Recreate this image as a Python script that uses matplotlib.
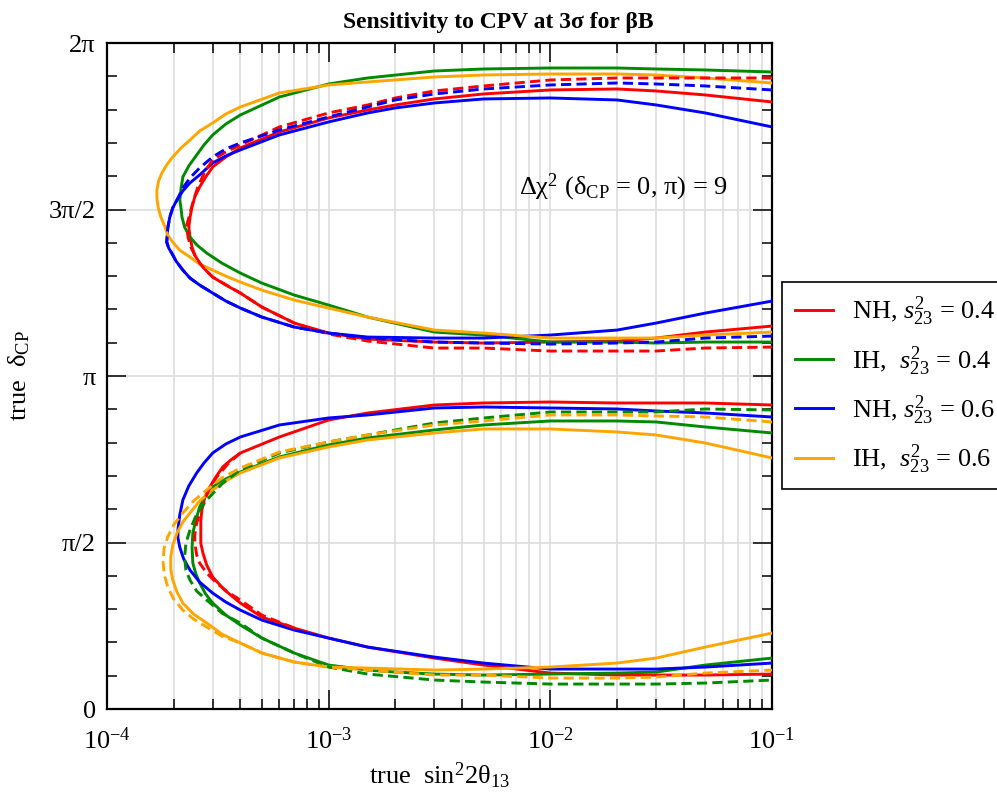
import numpy as np
import matplotlib
matplotlib.use("Agg")
import matplotlib.pyplot as plt
from matplotlib.ticker import FixedLocator, LogLocator, NullFormatter, FixedFormatter

plt.rcParams["font.family"] = ["Liberation Serif", "DejaVu Serif"]
plt.rcParams["mathtext.fontset"] = "custom"
plt.rcParams["mathtext.rm"] = "Liberation Serif"
plt.rcParams["mathtext.it"] = "Liberation Serif:italic"
plt.rcParams["mathtext.bf"] = "Liberation Serif:bold"
plt.rcParams["mathtext.default"] = "rm"

# --- data: contours of Delta chi^2 = 9, x = true sin^2 2theta13, d = true delta_CP / pi ---
# upper island (pi < delta < 2pi)
nh04_hi_x = [1e-1, 5e-2, 3e-2, 2e-2, 1e-2, 5e-3, 3e-3, 2e-3, 1.5e-3, 1e-3, 6e-4,
             4e-4, 3.44e-4, 3e-4, 2.79e-4, 2.62e-4, 2.49e-4, 2.42e-4, 2.37e-4, 2.34e-4, 2.37e-4, 2.42e-4, 2.49e-4,
             2.62e-4, 2.79e-4, 3e-4, 3.44e-4, 4e-4,
             5e-4, 7e-4, 1e-3, 1.5e-3, 3e-3, 5e-3, 1e-2, 2e-2, 3e-2, 5e-2, 1e-1]
nh04_hi_d = [1.823, 1.844, 1.856, 1.862, 1.859, 1.847, 1.832, 1.814, 1.799, 1.775, 1.733,
             1.685, 1.658, 1.628, 1.598, 1.568, 1.538, 1.508, 1.477, 1.447, 1.417, 1.387, 1.363,
             1.339, 1.318, 1.297, 1.273, 1.249,
             1.207, 1.159, 1.129, 1.111, 1.102, 1.099, 1.102, 1.105, 1.114, 1.132, 1.150]

nh04d_hi_x = [1e-1, 5e-2, 3e-2, 2e-2, 1e-2, 5e-3, 3e-3, 2e-3, 1.5e-3, 1e-3, 6e-4,
              4e-4, 3.44e-4, 3e-4, 2.76e-4, 2.57e-4, 2.46e-4, 2.37e-4, 2.29e-4, 2.32e-4, 2.39e-4, 2.49e-4,
              2.62e-4, 2.79e-4, 3e-4, 4e-4,
              5e-4, 7e-4, 1e-3, 1.5e-3, 3e-3, 5e-3, 1e-2, 2e-2, 3e-2, 5e-2, 1e-1]
nh04d_hi_d = [1.895, 1.895, 1.895, 1.895, 1.889, 1.871, 1.856, 1.835, 1.814, 1.790, 1.748,
              1.694, 1.673, 1.649, 1.613, 1.568, 1.529, 1.489, 1.453, 1.417, 1.387, 1.363,
              1.339, 1.318, 1.297, 1.249,
              1.207, 1.159, 1.126, 1.105, 1.084, 1.084, 1.075, 1.075, 1.075, 1.084, 1.087]

nh06_hi_x = [1e-1, 5e-2, 3e-2, 2e-2, 1e-2, 5e-3, 3e-3, 2e-3, 1.5e-3, 1e-3, 6e-4,
             4e-4, 3.44e-4, 3e-4, 2.62e-4, 2.37e-4, 2.20e-4, 2.07e-4, 1.98e-4, 1.92e-4, 1.88e-4, 1.86e-4,
             1.90e-4, 1.96e-4, 2.05e-4, 2.20e-4, 2.37e-4, 2.62e-4, 3e-4, 3.44e-4, 4e-4,
             5e-4, 7e-4, 1e-3, 1.5e-3, 3e-3, 5e-3, 1e-2, 2e-2, 3e-2, 5e-2, 1e-1]
nh06_hi_d = [1.748, 1.790, 1.814, 1.829, 1.835, 1.832, 1.820, 1.805, 1.790, 1.763, 1.724,
             1.679, 1.661, 1.640, 1.604, 1.580, 1.556, 1.529, 1.505, 1.477, 1.444, 1.402,
             1.384, 1.369, 1.345, 1.318, 1.294, 1.273, 1.249, 1.225, 1.204,
             1.177, 1.147, 1.129, 1.117, 1.114, 1.114, 1.123, 1.138, 1.159, 1.189, 1.225]

nh06d_hi_x = [1e-1, 5e-2, 3e-2, 2e-2, 1e-2, 5e-3, 3e-3, 2e-3, 1.5e-3, 1e-3, 6e-4,
              4e-4, 3.44e-4, 3e-4, 2.62e-4, 2.37e-4, 2.20e-4, 2.07e-4, 1.98e-4, 1.92e-4, 1.88e-4, 1.86e-4,
              1.90e-4, 1.96e-4, 2.05e-4, 2.20e-4, 2.37e-4, 2.62e-4, 3e-4, 3.44e-4, 4e-4,
              5e-4, 7e-4, 1e-3, 1.5e-3, 3e-3, 5e-3, 1e-2, 2e-2, 3e-2, 5e-2, 1e-1]
nh06d_hi_d = [1.859, 1.871, 1.877, 1.880, 1.874, 1.862, 1.847, 1.829, 1.808, 1.778, 1.739,
              1.700, 1.682, 1.658, 1.625, 1.595, 1.565, 1.529, 1.505, 1.477, 1.444, 1.402,
              1.384, 1.369, 1.345, 1.318, 1.294, 1.273, 1.249, 1.225, 1.204,
              1.177, 1.147, 1.129, 1.114, 1.102, 1.099, 1.096, 1.099, 1.102, 1.114, 1.120]

ih04_hi_x = [1e-1, 5e-2, 3e-2, 2e-2, 1e-2, 5e-3, 3e-3, 1.5e-3, 1e-3, 6e-4,
             4e-4, 3.44e-4, 3e-4, 2.74e-4, 2.54e-4, 2.34e-4, 2.20e-4, 2.16e-4, 2.13e-4, 2.16e-4, 2.18e-4,
             2.24e-4, 2.37e-4, 2.54e-4, 2.82e-4, 3.30e-4, 4e-4,
             5e-4, 7e-4, 1e-3, 1.5e-3, 3e-3, 5e-3, 1e-2, 2e-2, 3e-2, 5e-2, 1e-1]
ih04_hi_d = [1.913, 1.919, 1.922, 1.925, 1.925, 1.922, 1.916, 1.895, 1.877, 1.838,
             1.784, 1.757, 1.724, 1.694, 1.664, 1.631, 1.598, 1.565, 1.529, 1.502, 1.477,
             1.447, 1.417, 1.394, 1.369, 1.339, 1.309,
             1.279, 1.243, 1.213, 1.177, 1.132, 1.123, 1.102, 1.102, 1.099, 1.102, 1.102]

ih06_hi_x = [1e-1, 5e-2, 3e-2, 2e-2, 1e-2, 5e-3, 3e-3, 1.5e-3, 1e-3, 6e-4,
             4e-4, 3.44e-4, 3e-4, 2.62e-4, 2.37e-4, 2.16e-4, 1.98e-4, 1.86e-4, 1.77e-4, 1.71e-4, 1.68e-4,
             1.68e-4, 1.70e-4, 1.75e-4, 1.83e-4, 1.88e-4, 1.98e-4, 2.13e-4, 2.37e-4, 2.62e-4, 3e-4,
             3.44e-4, 4e-4,
             5e-4, 7e-4, 1e-3, 1.5e-3, 3e-3, 5e-3, 1e-2, 2e-2, 3e-2, 5e-2, 1e-1]
ih06_hi_d = [1.880, 1.895, 1.904, 1.907, 1.907, 1.904, 1.898, 1.883, 1.874, 1.850,
             1.808, 1.787, 1.760, 1.736, 1.709, 1.685, 1.658, 1.634, 1.610, 1.586, 1.559,
             1.535, 1.508, 1.477, 1.447, 1.423, 1.402, 1.378, 1.357, 1.336, 1.318,
             1.300, 1.282,
             1.258, 1.228, 1.204, 1.177, 1.138, 1.129, 1.114, 1.114, 1.114, 1.123, 1.132]

# lower island (0 < delta < pi)
nh04_lo_x = [1e-1, 5e-2, 3e-2, 2e-2, 1e-2, 5e-3, 3e-3, 1.5e-3, 1e-3, 6e-4,
             4e-4, 3.62e-4, 3.33e-4, 3.10e-4, 2.91e-4, 2.76e-4, 2.68e-4, 2.65e-4, 2.65e-4, 2.65e-4, 2.71e-4,
             2.82e-4, 3e-4, 3.40e-4, 4e-4,
             5e-4, 7e-4, 1e-3, 1.5e-3, 3e-3, 5e-3, 1e-2, 2e-2, 3e-2, 5e-2, 1e-1]
nh04_lo_d = [0.913, 0.919, 0.919, 0.919, 0.922, 0.919, 0.913, 0.889, 0.868, 0.817,
             0.769, 0.748, 0.727, 0.697, 0.667, 0.634, 0.598, 0.565, 0.529, 0.498, 0.468,
             0.432, 0.396, 0.357, 0.318,
             0.276, 0.243, 0.213, 0.186, 0.153, 0.132, 0.108, 0.102, 0.102, 0.102, 0.105]

nh04d_lo_x = [4e-4, 3.51e-4, 3.13e-4, 2.91e-4, 2.71e-4, 2.54e-4, 2.49e-4, 2.49e-4, 2.54e-4, 2.62e-4,
              2.82e-4, 3.13e-4, 3.51e-4, 4e-4, 5e-4, 7e-4]
nh04d_lo_d = [0.769, 0.736, 0.697, 0.667, 0.613, 0.559, 0.523, 0.498, 0.462, 0.438,
              0.408, 0.378, 0.351, 0.327, 0.282, 0.243]

nh06_lo_x = [1e-1, 5e-2, 3e-2, 2e-2, 1e-2, 5e-3, 3e-3, 1.5e-3, 1e-3, 6e-4,
             4e-4, 3.44e-4, 3e-4, 2.74e-4, 2.54e-4, 2.34e-4, 2.20e-4, 2.13e-4, 2.09e-4, 2.09e-4, 2.13e-4,
             2.22e-4, 2.37e-4, 2.62e-4, 3e-4, 3.44e-4, 4e-4,
             5e-4, 7e-4, 1e-3, 1.5e-3, 3e-3, 5e-3, 1e-2, 2e-2, 3e-2, 5e-2, 1e-1]
nh06_lo_d = [0.877, 0.889, 0.895, 0.901, 0.904, 0.907, 0.904, 0.883, 0.874, 0.853,
             0.817, 0.796, 0.769, 0.739, 0.709, 0.670, 0.628, 0.583, 0.538, 0.514, 0.486,
             0.450, 0.417, 0.381, 0.348, 0.321, 0.297,
             0.267, 0.237, 0.213, 0.186, 0.156, 0.138, 0.120, 0.120, 0.120, 0.126, 0.138]

ih04_lo_x = [1e-1, 5e-2, 3e-2, 2e-2, 1e-2, 5e-3, 3e-3, 1.5e-3, 1e-3, 6e-4,
             4e-4, 3.44e-4, 3e-4, 2.76e-4, 2.62e-4, 2.52e-4, 2.44e-4, 2.42e-4, 2.44e-4, 2.52e-4, 2.62e-4,
             2.79e-4, 3e-4, 3.44e-4, 4e-4,
             5e-4, 7e-4, 1e-3, 1.5e-3, 2e-3, 3e-3, 5e-3, 1e-2, 2e-2, 3e-2, 5e-2, 1e-1]
ih04_lo_d = [0.829, 0.847, 0.862, 0.865, 0.865, 0.853, 0.838, 0.814, 0.793, 0.757,
             0.712, 0.691, 0.667, 0.637, 0.607, 0.568, 0.529, 0.483, 0.438, 0.405, 0.378,
             0.345, 0.318, 0.282, 0.252,
             0.213, 0.168, 0.132, 0.117, 0.111, 0.105, 0.102, 0.105, 0.108, 0.111, 0.132, 0.153]

ih04d_lo_x = [1e-1, 5e-2, 3e-2, 2e-2, 1e-2, 5e-3, 3e-3, 1.5e-3, 1e-3, 6e-4,
              4e-4, 3.30e-4, 2.82e-4, 2.54e-4, 2.37e-4, 2.27e-4, 2.24e-4, 2.27e-4, 2.37e-4, 2.54e-4, 2.82e-4,
              3.30e-4, 4e-4,
              5e-4, 7e-4, 1e-3, 1.5e-3, 3e-3, 5e-3, 1e-2, 2e-2, 3e-2, 5e-2, 1e-1]
ih04d_lo_d = [0.898, 0.901, 0.892, 0.892, 0.892, 0.874, 0.859, 0.823, 0.802, 0.769,
              0.718, 0.676, 0.628, 0.586, 0.538, 0.498, 0.456, 0.417, 0.387, 0.354, 0.327,
              0.288, 0.258,
              0.213, 0.168, 0.126, 0.105, 0.087, 0.081, 0.075, 0.075, 0.075, 0.078, 0.087]

ih06_lo_x = [1e-1, 5e-2, 3e-2, 2e-2, 1e-2, 5e-3, 3e-3, 1.5e-3, 1e-3, 6e-4,
             4e-4, 3.44e-4, 3e-4, 2.62e-4, 2.37e-4, 2.20e-4, 2.07e-4, 1.98e-4, 1.94e-4, 1.94e-4, 1.98e-4,
             2.07e-4, 2.20e-4, 2.46e-4, 2.82e-4, 3.30e-4, 4e-4,
             5e-4, 7e-4, 1e-3, 1.5e-3, 3e-3, 5e-3, 1e-2, 2e-2, 3e-2, 5e-2, 1e-1]
ih06_lo_d = [0.754, 0.799, 0.823, 0.832, 0.841, 0.841, 0.829, 0.808, 0.787, 0.754,
             0.709, 0.685, 0.658, 0.625, 0.589, 0.562, 0.529, 0.492, 0.456, 0.420, 0.387,
             0.351, 0.318, 0.285, 0.258, 0.225, 0.198,
             0.168, 0.141, 0.126, 0.123, 0.117, 0.120, 0.126, 0.138, 0.153, 0.186, 0.228]

ih06d_lo_x = [1e-1, 5e-2, 3e-2, 2e-2, 1e-2, 5e-3, 3e-3, 1.5e-3, 1e-3, 6e-4,
              4e-4, 3.30e-4, 2.82e-4, 2.46e-4, 2.20e-4, 2.00e-4, 1.88e-4, 1.81e-4, 1.79e-4, 1.81e-4, 1.88e-4,
              2.00e-4, 2.20e-4, 2.46e-4, 2.82e-4, 3.30e-4, 4e-4,
              5e-4, 7e-4, 1e-3, 1.5e-3, 3e-3, 5e-3, 1e-2, 2e-2, 3e-2, 5e-2, 1e-1]
ih06d_lo_d = [0.862, 0.877, 0.880, 0.883, 0.883, 0.865, 0.853, 0.823, 0.802, 0.772,
              0.724, 0.694, 0.658, 0.625, 0.589, 0.553, 0.517, 0.483, 0.447, 0.405, 0.366,
              0.330, 0.297, 0.270, 0.246, 0.219, 0.198,
              0.168, 0.141, 0.126, 0.117, 0.102, 0.102, 0.093, 0.093, 0.096, 0.108, 0.117]

labels = [r"NH, $\mathit{s}^{2}_{23}$ = 0.4", r"IH,  $\mathit{s}^{2}_{23}$ = 0.4",
          r"NH, $\mathit{s}^{2}_{23}$ = 0.6", r"IH,  $\mathit{s}^{2}_{23}$ = 0.6"]
colors = ["#ff0000", "#008a00", "#0000ff", "#ffa500"]

xticks = [1e-4, 1e-3, 1e-2, 1e-1]
xticklabels = [r"10$^{-4}$", r"10$^{-3}$", r"10$^{-2}$", r"10$^{-1}$"]
yticks_pi = [0, 0.5, 1, 1.5, 2]
yticklabels = ["0", "π/2", "π", "3π/2", "2π"]

solid = [(nh04_hi_x, nh04_hi_d, nh04_lo_x, nh04_lo_d),
         (ih04_hi_x, ih04_hi_d, ih04_lo_x, ih04_lo_d),
         (nh06_hi_x, nh06_hi_d, nh06_lo_x, nh06_lo_d),
         (ih06_hi_x, ih06_hi_d, ih06_lo_x, ih06_lo_d)]
dashed = [(nh04d_hi_x, nh04d_hi_d, 0), (nh04d_lo_x, nh04d_lo_d, 0),
          (nh06d_hi_x, nh06d_hi_d, 2),
          (ih04d_lo_x, ih04d_lo_d, 1),
          (ih06d_lo_x, ih06d_lo_d, 3)]

fig = plt.figure(figsize=(9.97, 7.98), dpi=100)
ax = fig.add_axes([0.1073, 0.1115, 0.667, 0.8346])

lw = 2.1
for i, (hx, hd, lx, ld) in enumerate(solid):
    ax.plot(hx, np.array(hd) * np.pi, color=colors[i], lw=lw, label=labels[i], zorder=3,
            solid_joinstyle="round")
    ax.plot(lx, np.array(ld) * np.pi, color=colors[i], lw=lw, zorder=3, solid_joinstyle="round")
for x, d, ci in dashed:
    ax.plot(x, np.array(d) * np.pi, color=colors[ci], lw=lw, ls=(0, (3.5, 1.8)), zorder=3)

ax.set_xscale("log")
ax.set_xlim(1e-4, 1e-1)
ax.set_ylim(0, 2 * np.pi)

ax.xaxis.set_major_locator(FixedLocator(xticks))
ax.xaxis.set_major_formatter(FixedFormatter(xticklabels))
ax.xaxis.set_minor_locator(LogLocator(base=10, subs=np.arange(2, 10)))
ax.xaxis.set_minor_formatter(NullFormatter())
ax.yaxis.set_major_locator(FixedLocator([v * np.pi for v in yticks_pi]))
ax.yaxis.set_major_formatter(FixedFormatter(yticklabels))
ax.yaxis.set_minor_locator(FixedLocator(np.arange(0, 21) * np.pi / 10))

ax.grid(True, which="major", axis="both", color="#dddddd", lw=1.2, zorder=0)
ax.grid(True, which="minor", axis="x", color="#dddddd", lw=1.2, zorder=0)
ax.set_axisbelow(True)

ax.tick_params(which="both", direction="in", top=True, right=True, width=1.1, colors="black")
ax.tick_params(which="major", length=14, labelsize=19, pad=8)
ax.tick_params(axis="x", which="major", pad=13)
ax.tick_params(which="minor", length=7)
for s in ax.spines.values():
    s.set_linewidth(1.6)

ax.set_xlabel(r"true  sin$^{2}$2θ$_{13}$", fontsize=19, labelpad=5)
ax.set_ylabel(r"true  δ$_{\mathrm{CP}}$", fontsize=19, labelpad=12)

ax.text(7.2e-3, 1.544 * np.pi, r"Δχ$^{2}$ (δ$_{\mathrm{CP}}$ = 0, π) = 9", fontsize=19,
        ha="left", va="baseline")

fig.text(0.5, 0.985, "Sensitivity to CPV at 3σ for βB", fontsize=17, weight="bold",
         ha="center", va="top")

leg = fig.legend(loc="upper left", bbox_to_anchor=(782 / 997, 1 - 282 / 798), fontsize=19,
                 frameon=True, fancybox=False, edgecolor="black", framealpha=1,
                 handlelength=1.45, handletextpad=0.7, labelspacing=0.6, borderpad=0.5,
                 borderaxespad=0)
leg.get_frame().set_linewidth(1.2)

fig.savefig("out.png", dpi=100)
